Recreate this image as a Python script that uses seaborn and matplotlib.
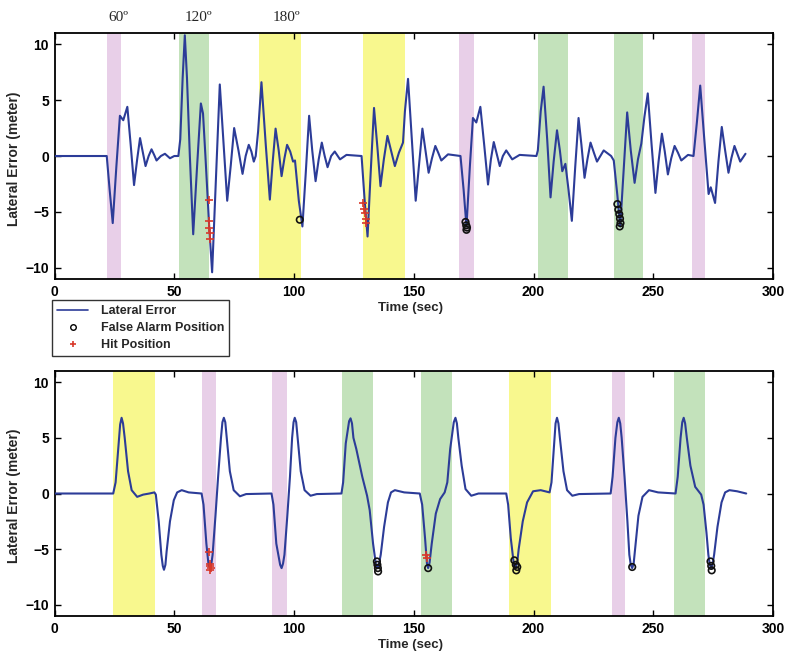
import matplotlib
matplotlib.use("Agg")
import matplotlib.pyplot as plt
import seaborn as sns
import pandas as pd
from matplotlib.lines import Line2D

# ---------------- data ----------------
top_t = [0, 21.8, 23.0, 24.3, 25.8, 27.3, 28.7, 30.4, 31.8, 33.2, 34.5, 35.7, 36.9, 38.0, 39.3,
         40.5, 41.6, 42.6, 44.4, 46.1, 48.2, 50.0, 51.7, 52.5, 53.5, 54.4, 55.3, 56.5, 57.9,
         59.5, 61.1, 62.0, 63.0, 64.5, 65.8, 67.4, 69.0, 70.6, 72.1, 73.6, 75.0, 76.8, 78.5,
         79.8, 81.1, 82.2, 83.2, 84.0, 85.0, 86.4, 88.2, 89.9, 91.1, 92.3, 93.6, 94.8, 96.0,
         97.1, 98.4, 99.6, 100.4, 102.0, 103.5, 104.9, 106.3, 107.6, 109.0, 110.3, 111.6,
         112.8, 114.0, 115.5, 117.0, 119.2, 121.9, 128.2, 129.5, 130.7, 132.0, 133.4, 134.8,
         136.1, 137.5, 139.0, 140.5, 142.1, 143.8, 145.5, 146.3, 147.6, 149.2, 150.8, 152.2,
         153.6, 154.9, 156.2, 157.6, 159.0, 160.2, 161.5, 164.3, 169.5, 170.8, 172.0, 173.4,
         174.7, 176.1, 177.8, 179.4, 181.0, 182.2, 183.4, 184.6, 185.9, 187.2, 188.6, 191.1,
         194.2, 201.2, 201.8, 203.0, 204.2, 205.7, 207.1, 208.4, 209.8, 211.0, 212.0, 213.3,
         214.6, 216.0, 217.4, 218.8, 220.0, 221.3, 222.5, 223.8, 225.2, 226.5, 229.3, 232.4,
         233.5, 235.0, 236.2, 237.7, 239.1, 240.6, 242.2, 243.6, 245.0, 246.3, 247.7, 249.3,
         250.9, 252.2, 253.6, 254.8, 256.1, 257.5, 258.9, 260.3, 261.7, 264.5, 266.8, 268.2,
         269.6, 271.3, 273.1, 274.0, 275.8, 277.2, 278.6, 280.0, 281.4, 282.6, 283.9, 285.1,
         286.3, 288.5]
top_err = [0, 0, -3.0, -6.0, -1.0, 3.6, 3.2, 4.4, 1.0, -2.6, -0.3, 1.6, 0.3, -0.9, 0.0,
           0.6, 0.1, -0.4, 0.0, 0.2, -0.2, 0.0, 0.0, 1.5, 7.0, 10.8, 7.0, 0.0, -7.0,
           -1.0, 4.7, 3.8, 0.0, -6.0, -10.4, -2.0, 6.4, 1.0, -4.0, -0.8, 2.5, 0.5, -1.6,
           0.0, 1.0, 0.4, -0.5, 0.0, 2.2, 6.6, 1.0, -3.9, -0.5, 2.45, 0.5, -1.8, -0.2,
           1.0, 0.4, -0.5, -0.4, -4.0, -6.3, -1.5, 3.6, 0.5, -2.25, -0.3, 1.2,
           0.0, -1.0, 0.0, 0.4, -0.3, 0.1, 0.0, -4.0, -7.2, -1.5, 4.3, 0.8,
           -2.7, -0.3, 1.8, 0.5, -0.9, 0.3, 1.2, 4.0, 6.9, 1.5, -4.0, -0.8,
           2.45, 0.5, -1.5, -0.2, 0.9, 0.3, -0.4, 0.15, 0.0, -3.0, -6.3, -1.0,
           3.4, 3.0, 4.4, 1.0, -2.55, -0.3, 1.25, 0.2, -0.9, 0.0, 0.5, -0.3,
           0.1, 0.0, 0.5, 4.0, 6.2, 1.5, -3.7, -0.5, 2.3, 0.5, -1.36, -0.7,
           -3.0, -5.8, -1.0, 3.4, 1.0, -1.95, -0.3, 1.2, 0.3, -0.5, 0.5, 0.0,
           -0.4, -3.5, -6.3, -1.0, 3.9, 0.5, -2.4, -0.3, 1.1, 3.5, 5.6, 1.0,
           -3.3, -0.5, 2.0, 0.4, -1.65, -0.2, 0.9, 0.3, -0.4, 0.1, 0.0, 3.0,
           6.3, 1.5, -3.4, -2.8, -4.2, -0.5, 2.6, 0.5, -1.5, -0.2, 0.9, 0.2,
           -0.5, 0.2]

bot_t = [0, 24.5, 25.5, 26.6, 27.4, 28.0, 28.6, 29.3, 30.7, 32.2, 34.5, 37.0, 39.6, 41.7, 42.3,
         43.5, 44.6, 45.2, 45.7, 46.3, 46.8, 48.2, 49.8, 51.2, 53.1, 56.0, 61.4,
         62.2, 63.4, 64.3, 64.9, 65.5, 66.0, 67.2, 68.3, 69.5, 70.1, 70.7, 71.3, 71.9, 73.2,
         74.8, 77.4, 80.0, 90.6,
         91.4, 92.6, 94.2, 94.8, 95.4, 96.0, 97.2, 98.3, 99.2, 99.8, 100.3, 100.9, 101.5, 102.8,
         104.4, 106.9, 109.5, 119.8,
         120.5, 121.6, 123.0, 123.6, 124.2, 124.8, 126.0, 128.5, 130.5, 131.6, 133.0, 134.2,
         134.8, 135.5, 136.2, 137.6, 139.2, 140.5, 142.1, 146.0, 152.5,
         153.5, 154.7, 155.5, 156.0, 156.6, 157.5, 159.2, 161.0, 162.9, 164.0, 165.2, 166.7,
         167.4, 168.0, 168.6, 170.0, 171.6, 174.0, 177.0, 188.6,
         189.4, 190.5, 191.8, 192.5, 193.2, 193.8, 195.5, 197.3, 199.8, 203.0, 206.7, 207.5,
         208.6, 209.2, 209.8, 210.4, 211.0, 212.5, 214.0, 216.2, 219.0, 232.2,
         233.0, 234.2, 235.0, 235.6, 236.2, 236.8, 238.0, 239.2, 240.0, 240.6, 241.2, 241.8,
         242.4, 243.8, 245.5, 248.2, 252.0, 259.3,
         260.2, 261.4, 262.1, 262.7, 263.3, 264.0, 265.5, 267.5, 270.0, 271.0, 272.2, 273.0,
         273.6, 274.2, 274.8, 275.4, 276.8, 278.5, 280.0, 281.8, 285.0, 288.8]
bot_err = [0, 0, 1.0, 4.0, 6.2, 6.8, 6.3, 5.0, 2.0, 0.3, -0.3, -0.1, 0.0, 0.1, -0.1,
           -2.5, -5.5, -6.5, -6.85, -6.4, -5.2, -2.5, -0.6, 0.1, 0.3, 0.1, 0.0,
           -1.0, -4.5, -6.4, -6.7, -6.3, -5.5, -2.0, 1.5, 5.0, 6.4, 6.8, 6.4, 5.0, 2.0,
           0.3, -0.25, -0.05, 0.0,
           -1.0, -4.5, -6.4, -6.7, -6.3, -5.5, -2.0, 1.5, 5.0, 6.4, 6.8, 6.4, 5.0, 2.0,
           0.3, -0.2, -0.05, 0.0,
           1.0, 4.5, 6.5, 6.75, 6.3, 5.0, 4.0, 1.5, -0.2, -1.5, -4.5, -6.4,
           -6.7, -6.3, -5.5, -3.0, -0.8, 0.1, 0.3, 0.1, 0.0,
           -1.0, -4.0, -6.3, -6.7, -6.2, -4.5, -1.8, -0.5, 0.1, 1.0, 4.0, 6.4,
           6.8, 6.3, 5.0, 2.5, 0.4, -0.2, 0.0, 0.0,
           -1.0, -4.0, -6.4, -6.7, -6.2, -5.0, -2.5, -0.8, 0.2, 0.3, 0.1, 1.0,
           4.5, 6.3, 6.8, 6.3, 5.0, 2.0, 0.3, -0.2, -0.05, 0.0,
           1.5, 5.0, 6.4, 6.8, 6.3, 5.0, 1.5, -2.5, -5.5, -6.4, -6.7, -6.3,
           -5.0, -2.0, -0.3, 0.3, 0.1, 0.0,
           1.5, 5.0, 6.4, 6.8, 6.3, 5.0, 2.5, 0.6, -0.1, -1.0, -3.5, -5.5,
           -6.4, -6.7, -6.3, -5.5, -3.0, -0.8, 0.1, 0.3, 0.2, 0.0]

# shaded turn intervals: start, end, kind
top_band_start = [22.0, 52.1, 85.4, 128.6, 168.9, 201.8, 233.4, 266.0]
top_band_end = [27.6, 64.6, 103.1, 146.2, 175.0, 214.3, 245.6, 271.4]
top_band_kind = ["60", "120", "180", "180", "60", "120", "120", "60"]
bot_band_start = [24.5, 61.7, 91.0, 120.2, 153.2, 189.7, 232.7, 258.6]
bot_band_end = [42.1, 67.4, 96.9, 133.0, 166.1, 207.4, 238.3, 271.4]
bot_band_kind = ["180", "60", "60", "120", "120", "180", "60", "120"]

# detections
top_fa_t = [102.4, 171.6, 171.9, 172.2, 172.0, 235.0, 235.4, 235.8, 236.1, 236.3, 236.0]
top_fa_y = [-5.7, -5.9, -6.2, -6.4, -6.6, -4.3, -4.8, -5.2, -5.6, -6.0, -6.3]
top_hit_t = [64.5, 64.6, 64.7, 64.8, 64.9, 129.0, 129.3, 129.6, 129.9, 130.2]
top_hit_y = [-3.9, -5.8, -6.4, -6.9, -7.4, -4.2, -4.7, -5.1, -5.6, -6.0]
bot_fa_t = [134.6, 134.8, 135.0, 135.1, 156.0, 192.0, 192.6, 193.2, 192.8, 241.2, 273.9, 274.2, 274.4]
bot_fa_y = [-6.1, -6.4, -6.7, -7.0, -6.7, -6.0, -6.4, -6.6, -6.9, -6.6, -6.1, -6.5, -6.9]
bot_hit_t = [64.6, 64.8, 65.0, 65.2, 65.0, 155.2, 155.4]
bot_hit_y = [-5.25, -6.3, -6.5, -6.7, -6.9, -5.5, -5.8]

angle_labels = ["60º", "120º", "180º"]
angle_label_t = [26.5, 59.9, 97.0]

xticks = [0, 50, 100, 150, 200, 250, 300]
yticks = [-10, -5, 0, 5, 10]

# ---------------- style ----------------
sns.set_style("ticks")
plt.rcParams["font.family"] = ["Liberation Sans", "DejaVu Sans"]
plt.rcParams["font.weight"] = "bold"

band_colors = {"60": "#e8cfe8", "120": "#c3e2bb", "180": "#f8f88e"}
line_color = "#2c3c98"

fig = plt.figure(figsize=(7.88, 6.54), dpi=100)
ax1 = fig.add_axes([0.0692, 0.5734, 0.9118, 0.3761])
ax2 = fig.add_axes([0.0692, 0.0581, 0.9118, 0.3746])


def draw_panel(ax, t, err, bs, be, bk, fa_t, fa_y, hit_t, hit_y):
    for s, e, k in zip(bs, be, bk):
        ax.axvspan(s, e, color=band_colors[k], lw=0, zorder=0)
    df = pd.DataFrame({"t": t, "err": err})
    sns.lineplot(data=df, x="t", y="err", ax=ax, color=line_color, lw=1.5,
                 sort=False, estimator=None, zorder=3)
    sns.scatterplot(x=fa_t, y=fa_y, ax=ax, marker="o", s=22, facecolor="none",
                    edgecolor="#111111", linewidth=1.2, zorder=4)
    sns.scatterplot(x=hit_t, y=hit_y, ax=ax, marker="+", s=30, color="#d8382a",
                    linewidth=1.2, zorder=5)
    ax.set_xlim(0, 300)
    ax.set_ylim(-11, 11)
    ax.set_xticks(xticks)
    ax.set_yticks(yticks)
    ax.tick_params(direction="in", top=True, right=True, length=4, width=1,
                   labelsize=10, pad=4, colors="black")
    for lab in ax.get_xticklabels() + ax.get_yticklabels():
        lab.set_fontweight("bold")
    for sp in ax.spines.values():
        sp.set_visible(True)
        sp.set_linewidth(1.3)
        sp.set_color("black")
    ax.set_xlabel("Time (sec)", fontsize=9.5, fontweight="bold")
    ax.set_ylabel("Lateral Error (meter)", fontsize=10, fontweight="bold")
    ax.yaxis.set_label_coords(-0.046, 0.49)
    ax.xaxis.set_label_coords(0.495, -0.092)


draw_panel(ax1, top_t, top_err, top_band_start, top_band_end, top_band_kind,
           top_fa_t, top_fa_y, top_hit_t, top_hit_y)
draw_panel(ax2, bot_t, bot_err, bot_band_start, bot_band_end, bot_band_kind,
           bot_fa_t, bot_fa_y, bot_hit_t, bot_hit_y)

for lab, tt in zip(angle_labels, angle_label_t):
    ax1.text(tt, 1.062, lab, transform=ax1.get_xaxis_transform(), ha="center", va="center",
             fontsize=11, family=["Liberation Serif", "DejaVu Serif"], fontweight="normal")

handles = [Line2D([0], [0], color=line_color, lw=1.2),
           Line2D([0], [0], marker="o", ls="none", mfc="none", mec="black", ms=4, mew=1),
           Line2D([0], [0], marker="+", ls="none", color="#d8382a", ms=5, mew=1.2)]
labels = ["Lateral Error", "False Alarm Position", "Hit Position"]
leg = fig.legend(handles, labels, loc="upper left", bbox_to_anchor=(0.066, 0.541),
                 frameon=True, fancybox=False, edgecolor="black", fontsize=9,
                 borderpad=0.4, labelspacing=0.4, handlelength=2.5, handletextpad=1.0,
                 borderaxespad=0)
leg.get_frame().set_linewidth(1.0)
for txt in leg.get_texts():
    txt.set_fontweight("bold")

fig.savefig("out.png", dpi=100)
